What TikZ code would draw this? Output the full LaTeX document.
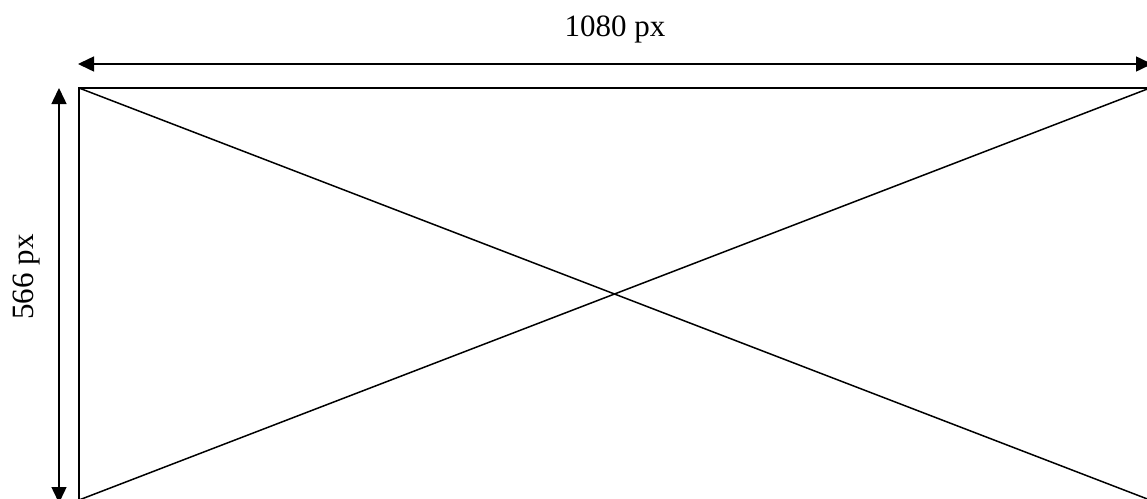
\documentclass[tikz,border=0pt]{standalone}
\usepackage{fontspec}
\setmainfont{Liberation Serif}
\usetikzlibrary{arrows.meta}

\tikzset{
  dimline/.style={line width=1.5pt, {Triangle[length=16pt,width=15pt]}-{Triangle[length=16pt,width=15pt]}},
  dimlabel/.style={inner sep=0pt, font=\fontsize{31pt}{37pt}\selectfont},
}

\begin{document}
\begin{tikzpicture}[x=1pt,y=-1pt]
			\useasboundingbox (0,0) rectangle (1147,498);
			\clip (0,0) rectangle (1147,498);
			
			\coordinate (tl) at (79,88);
			\coordinate (tr) at (1150,88);
			\coordinate (bl) at (79,500);
			\coordinate (br) at (1150,500);
			
			\draw[line width=2.8pt] (bl) -- (tl) -- (tr) -- (br) -- cycle;
			\draw[line width=1.5pt] (tl) -- (br);
			\draw[line width=1.5pt] (bl) -- (tr);
			
			\coordinate (wl) at (78,64);
			\coordinate (wr) at (1152,64);
			\draw[dimline] (wl) -- (wr);
			\node[dimlabel, anchor=base] (wlabel) at (615,36) {1080 px};
			
			\coordinate (ht) at (59,88);
			\coordinate (hb) at (59,503);
			\draw[dimline] (ht) -- (hb);
			\node[dimlabel, anchor=base, rotate=90] (hlabel) at (33,277) {566 px};
			
\end{tikzpicture}
\end{document}
